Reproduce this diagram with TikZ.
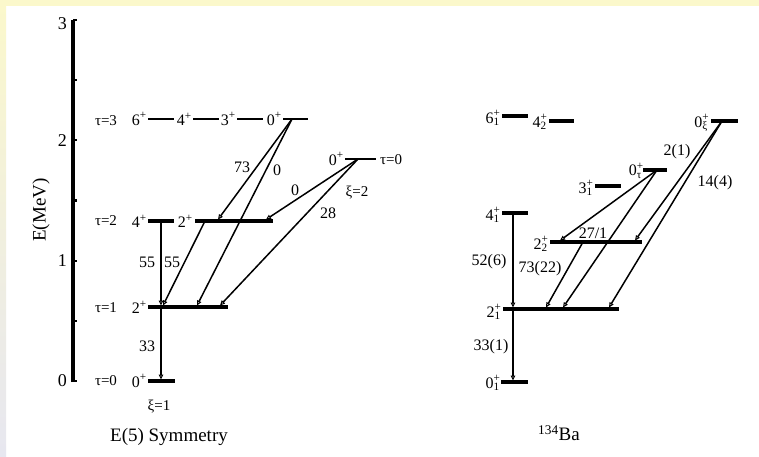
\documentclass[tikz,border=0pt]{standalone}
\usepackage{fontspec}
\setmainfont{Liberation Serif}
\usetikzlibrary{arrows.meta}
\definecolor{bgyellow}{RGB}{251,248,203}
\definecolor{bglav}{RGB}{231,231,240}
\newcommand{\lv}[3]{#1\rlap{\textsuperscript{#2}}\textsubscript{#3}}
\begin{document}
\begin{tikzpicture}[x=1pt,y=-1pt,
  lvl/.style={line width=3.4pt},
  lvlthin/.style={line width=2.2pt},
  trans/.style={line width=1.5pt,-{Triangle[open,length=5pt,width=4.5pt,line width=1pt]}},
  lab/.style={font=\fontsize{16}{16}\selectfont, inner sep=0pt},
  small/.style={font=\fontsize{15}{15}\selectfont, inner sep=0pt},
  title/.style={font=\fontsize{19}{19}\selectfont, inner sep=0pt},
  axnum/.style={font=\fontsize{18}{18}\selectfont, inner sep=0pt},
]
% background
\fill[white] (0,0) rectangle (759,457);
\fill[bgyellow] (0,0) rectangle (759,6);
\shade[top color=bgyellow, bottom color=bglav] (0,0) rectangle (6,457);
\useasboundingbox (0,0) rectangle (759,457);

% axis
\coordinate (ax0) at (73,382);
\coordinate (ax3) at (73,20);
\draw[line width=3.4pt] (ax0) -- (ax3);
\foreach \i in {0,...,6} {\draw[line width=2.2pt] (73,381-60.17*\i) -- ++(3.5,0);}
\node[axnum, anchor=east] (n0) at (67,381) {0};
\node[axnum, anchor=east] (n1) at (67,261) {1};
\node[axnum, anchor=east] (n2) at (67,141) {2};
\node[axnum, anchor=east] (n3) at (67,24) {3};
\node[title, rotate=90] (elab) at (41,210) {E(MeV)};

% ===== E(5) =====
\node[small] (t0) at (106,381) {τ=0};
\node[small] (t1) at (106,308) {τ=1};
\node[small] (t2) at (106,221) {τ=2};
\node[small] (t3) at (106,121) {τ=3};
% tau=0
\coordinate (g0a) at (148,381); \coordinate (g0b) at (175,381);
\draw[lvl] (g0a) -- (g0b);
\node[lab, anchor=east] (l00) at (147,381) {0\textsuperscript{+}};
% tau=1
\coordinate (g1a) at (148,307); \coordinate (g1b) at (228,307);
\draw[lvl] (g1a) -- (g1b);
\node[lab, anchor=east] (l12) at (147,307) {2\textsuperscript{+}};
% tau=2
\coordinate (g2a) at (148,221); \coordinate (g2b) at (174,221);
\coordinate (g2c) at (195,221); \coordinate (g2d) at (273,221);
\draw[lvl] (g2a) -- (g2b);
\draw[lvl] (g2c) -- (g2d);
\node[lab, anchor=east] (l24) at (147,221) {4\textsuperscript{+}};
\node[lab, anchor=east] (l22) at (193,221) {2\textsuperscript{+}};
% tau=3
\coordinate (g3a) at (148,119); \coordinate (g3b) at (174,119);
\coordinate (g3c) at (193,119); \coordinate (g3d) at (219,119);
\coordinate (g3e) at (237,119); \coordinate (g3f) at (263,119);
\coordinate (g3g) at (283,119); \coordinate (g3h) at (308,119);
\draw[lvlthin] (g3a) -- (g3b);
\draw[lvlthin] (g3c) -- (g3d);
\draw[lvlthin] (g3e) -- (g3f);
\draw[lvlthin] (g3g) -- (g3h);
\node[lab, anchor=east] (l36) at (147,119) {6\textsuperscript{+}};
\node[lab, anchor=east] (l34) at (192,119) {4\textsuperscript{+}};
\node[lab, anchor=east] (l33) at (236,119) {3\textsuperscript{+}};
\node[lab, anchor=east] (l30) at (282,119) {0\textsuperscript{+}};
% xi=2
\coordinate (gxa) at (345,159); \coordinate (gxb) at (376,159);
\draw[lvlthin] (gxa) -- (gxb);
\node[lab, anchor=east] (lx0) at (344,159) {0\textsuperscript{+}};
\node[small] (tx) at (391,160) {τ=0};
\node[small] (xi2) at (357,193) {ξ=2};
\node[small] (xi1) at (159,407) {ξ=1};
\node[title] (e5) at (169,437) {E(5) Symmetry};

% transitions E(5)
\coordinate (v4) at (161,221);
\coordinate (v2t) at (161,305.5);
\coordinate (v2) at (161,307);
\coordinate (v0t) at (161,379.5);
\draw[trans] (v4) -- (v2t);
\draw[trans] (v2) -- (v0t);
\coordinate (b2s) at (205,221); \coordinate (b2e) at (163,305.5);
\draw[trans] (b2s) -- (b2e);
\coordinate (c3) at (292,119);
\coordinate (c3e) at (218,219.5);
\coordinate (c3f) at (197,305.5);
\draw[trans] (c3) -- (c3e);
\draw[trans] (c3) -- (c3f);
\coordinate (x0) at (358,159);
\coordinate (x0e) at (266,219.5);
\coordinate (x0f) at (220,305.5);
\draw[trans] (x0) -- (x0e);
\draw[trans] (x0) -- (x0f);
\node[lab] (a55l) at (147,262) {55};
\node[lab] (a55r) at (172,262) {55};
\node[lab] (a33) at (147,346) {33};
\node[lab] (a73) at (242,167) {73};
\node[lab] (a0a) at (277,170) {0};
\node[lab] (a0b) at (295,190) {0};
\node[lab] (a28) at (328,213) {28};

% ===== 134Ba =====
\coordinate (r0a) at (501,382); \coordinate (r0b) at (528,382);
\coordinate (r2a) at (503,309); \coordinate (r2b) at (619,309);
\coordinate (r4a) at (502,213); \coordinate (r4b) at (528,213);
\coordinate (r22a) at (550,242); \coordinate (r22b) at (642,242);
\coordinate (r3a) at (595,186); \coordinate (r3b) at (621,186);
\coordinate (rta) at (643,170); \coordinate (rtb) at (667,170);
\coordinate (r6a) at (502,116); \coordinate (r6b) at (528,116);
\coordinate (r42a) at (549,121); \coordinate (r42b) at (574,121);
\coordinate (rxa) at (711,121); \coordinate (rxb) at (738,121);
\foreach \a/\b in {r0a/r0b,r2a/r2b,r4a/r4b,r22a/r22b,r3a/r3b,rta/rtb,r6a/r6b,r42a/r42b,rxa/rxb}
  {\draw[lvl] (\a) -- (\b);}
\node[lab, anchor=east] (k0) at (500,383) {\lv{0}{+}{1}};
\node[lab, anchor=east] (k2) at (501,312) {\lv{2}{+}{1}};
\node[lab, anchor=east] (k4) at (500,215) {\lv{4}{+}{1}};
\node[lab, anchor=east] (k22) at (548,244) {\lv{2}{+}{2}};
\node[lab, anchor=east] (k3) at (593,188) {\lv{3}{+}{1}};
\node[lab, anchor=east] (kt) at (642,171) {\lv{0}{+}{τ}};
\node[lab, anchor=east] (k6) at (500,118) {\lv{6}{+}{1}};
\node[lab, anchor=east] (k42) at (547,122) {\lv{4}{+}{2}};
\node[lab, anchor=east] (kx) at (708,123) {\lv{0}{+}{ξ}};

% transitions Ba
\coordinate (w4) at (513,213);
\coordinate (w2t) at (513,307.5);
\coordinate (w2) at (513,309);
\coordinate (w0t) at (513,380.5);
\draw[trans] (w4) -- (w2t);
\draw[trans] (w2) -- (w0t);
\coordinate (p22) at (583,242); \coordinate (p22e) at (546,307.5);
\draw[trans] (p22) -- (p22e);
\coordinate (pt) at (657,170);
\coordinate (pte) at (560,240.5);
\coordinate (ptf) at (563,307.5);
\draw[trans] (pt) -- (pte);
\draw[trans] (pt) -- (ptf);
\coordinate (px) at (722,121);
\coordinate (pxe) at (635,240.5);
\coordinate (pxf) at (609,307.5);
\draw[trans] (px) -- (pxe);
\draw[trans] (px) -- (pxf);
\node[lab] (b21) at (677,152) {2(1)};
\node[lab] (b144) at (715,183) {14(4)};
\node[lab] (b271) at (593,233) {27/1};
\node[lab] (b526) at (489,262) {52(6)};
\node[lab] (b7322) at (540,269) {73(22)};
\node[lab] (b331) at (491,347) {33(1)};
\node[title] (ba) at (559,433) {\textsuperscript{134}Ba};
\end{tikzpicture}
\end{document}
